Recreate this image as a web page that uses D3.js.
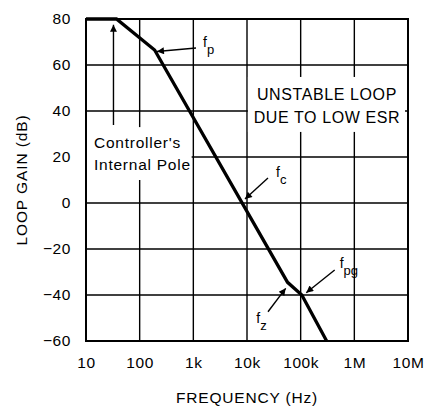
<!DOCTYPE html>
<html>
<head>
<meta charset="utf-8">
<script src="https://cdn.jsdelivr.net/npm/d3@7"></script>
<style>
  html, body { margin: 0; padding: 0; background: #fff; }
  svg text { font-family: "Liberation Sans", Arial, sans-serif; fill: #000; }
</style>
</head>
<body>
<svg id="chart" width="426" height="407"></svg>
<script>
// ---- data ----
const freqHz  = [10, 37, 190, 57000, 105000, 305000];
const gainDb  = [80, 80, 66.5, -34.5, -40, -60];
const xTickValues = [10, 100, 1e3, 1e4, 1e5, 1e6, 1e7];
const xTickLabels = ["10", "100", "1k", "10k", "100k", "1M", "10M"];
const yTickValues = [80, 60, 40, 20, 0, -20, -40, -60];
const xTitle = "FREQUENCY (Hz)";
const yTitle = "LOOP GAIN (dB)";
const noteLines = ["UNSTABLE LOOP", "DUE TO LOW ESR"];
const poleLines = ["Controller's", "Internal Pole"];
// annotation labels: [name, subscript, labelFreq, labelDb, arrowFromFreq, arrowFromDb, arrowToFreq, arrowToDb]
const markers = [
  ["f", "p",  1514, 67.8, 1122, 67.4, 210, 65.9],
  ["f", "c",  34700, 11.3, 24600, 10.9, 9180, 1.7],
  ["f", "pg", 533000, -28.3, 430000, -29.1, 127000, -39.0],
  ["f", "z",  14900, -52, 24600, -47.3, 52600, -37.1]
];

// ---- scales ----
const margin = {left: 86, right: 18, top: 19, bottom: 66};
const W = 426, H = 407;
const x = d3.scaleLog().domain([10, 1e7]).range([margin.left, W - margin.right]);
const y = d3.scaleLinear().domain([-60, 80]).range([H - margin.bottom, margin.top]);

const svg = d3.select("#chart");

// defs: arrowhead
svg.append("defs").append("marker")
  .attr("id", "ah").attr("viewBox", "0 0 10 10")
  .attr("refX", 10).attr("refY", 5)
  .attr("markerWidth", 10).attr("markerHeight", 7)
  .attr("markerUnits", "userSpaceOnUse")
  .attr("orient", "auto")
  .append("path").attr("d", "M0,0 L10,5 L0,10 Z").attr("fill", "#000");

// grid
const grid = svg.append("g");
grid.selectAll("line.v").data(xTickValues).join("line")
  .attr("x1", d => x(d)).attr("x2", d => x(d))
  .attr("y1", y(80)).attr("y2", y(-60))
  .attr("stroke", "#000").attr("stroke-width", 1.4);
grid.selectAll("line.h").data(yTickValues).join("line")
  .attr("x1", x(10)).attr("x2", x(1e7))
  .attr("y1", d => y(d)).attr("y2", d => y(d))
  .attr("stroke", "#000").attr("stroke-width", 1.4);

// white boxes behind texts
svg.append("rect")
  .attr("x", x(10.4e3)).attr("y", y(54.8))
  .attr("width", x(8.8e6) - x(10.4e3)).attr("height", y(30.9) - y(54.8))
  .attr("fill", "#fff");
svg.append("rect")
  .attr("x", x(10) + 1).attr("y", y(33))
  .attr("width", x(930) - x(10) - 1).attr("height", y(10) - y(33))
  .attr("fill", "#fff");

// frame
svg.append("rect")
  .attr("x", x(10)).attr("y", y(80))
  .attr("width", x(1e7) - x(10)).attr("height", y(-60) - y(80))
  .attr("fill", "none").attr("stroke", "#000").attr("stroke-width", 2);

// axes (labels only)
const xAxis = d3.axisBottom(x).tickValues(xTickValues)
  .tickFormat((d, i) => xTickLabels[i]).tickSize(0).tickPadding(16);
const gx = svg.append("g").attr("transform", `translate(0,${y(-60)})`).call(xAxis);
gx.select(".domain").remove();
gx.selectAll("text").attr("font-size", 15.5).attr("letter-spacing", 0.6)
  .style("font-family", "Liberation Sans, Arial, sans-serif");

const yAxis = d3.axisLeft(y).tickValues(yTickValues).tickSize(0).tickPadding(15);
const gy = svg.append("g").attr("transform", `translate(${x(10)},0)`).call(yAxis);
gy.select(".domain").remove();
gy.selectAll("text").attr("font-size", 15.5).attr("letter-spacing", 0.6)
  .style("font-family", "Liberation Sans, Arial, sans-serif");

// axis titles
svg.append("text").attr("x", (x(10) + x(1e7)) / 2).attr("y", 403)
  .attr("text-anchor", "middle").attr("font-size", 15.5).attr("letter-spacing", 0.8)
  .text(xTitle);
svg.append("text")
  .attr("transform", `translate(27,${(y(80) + y(-60)) / 2}) rotate(-90)`)
  .attr("text-anchor", "middle").attr("font-size", 15.5).attr("letter-spacing", 0.9)
  .text(yTitle);

// curve
const line = d3.line().x((d, i) => x(freqHz[i])).y((d, i) => y(gainDb[i]));
svg.append("path").datum(freqHz).attr("d", line)
  .attr("fill", "none").attr("stroke", "#000").attr("stroke-width", 3.3)
  .attr("stroke-linejoin", "miter");

// note text
svg.selectAll("text.note").data(noteLines).join("text")
  .attr("class", "note")
  .attr("x", x(309000)).attr("y", (d, i) => y([44.8, 34.6][i]))
  .attr("text-anchor", "middle").attr("font-size", 16).attr("letter-spacing", 0.6)
  .text(d => d);

// controller's internal pole
svg.selectAll("text.pole").data(poleLines).join("text")
  .attr("class", "pole")
  .attr("x", x(14.1)).attr("y", (d, i) => y([23.9, 14.3][i]))
  .attr("font-size", 15.5).attr("letter-spacing", 0.75)
  .text(d => d);
svg.append("line")
  .attr("x1", x(32.5)).attr("x2", x(32.5))
  .attr("y1", y(33.9)).attr("y2", y(77.5))
  .attr("stroke", "#000").attr("stroke-width", 1.4)
  .attr("marker-end", "url(#ah)");

// markers
markers.forEach(m => {
  const [nm, sub, lf, ld, af, ad, tf, td] = m;
  const t = svg.append("text").attr("x", x(lf)).attr("y", y(ld)).attr("font-size", 14);
  t.append("tspan").text(nm);
  t.append("tspan").attr("dy", 7).attr("font-size", 13).text(sub);
  svg.append("line")
    .attr("x1", x(af)).attr("y1", y(ad))
    .attr("x2", x(tf)).attr("y2", y(td))
    .attr("stroke", "#000").attr("stroke-width", 1.4)
    .attr("marker-end", "url(#ah)");
});
</script>
</body>
</html>
